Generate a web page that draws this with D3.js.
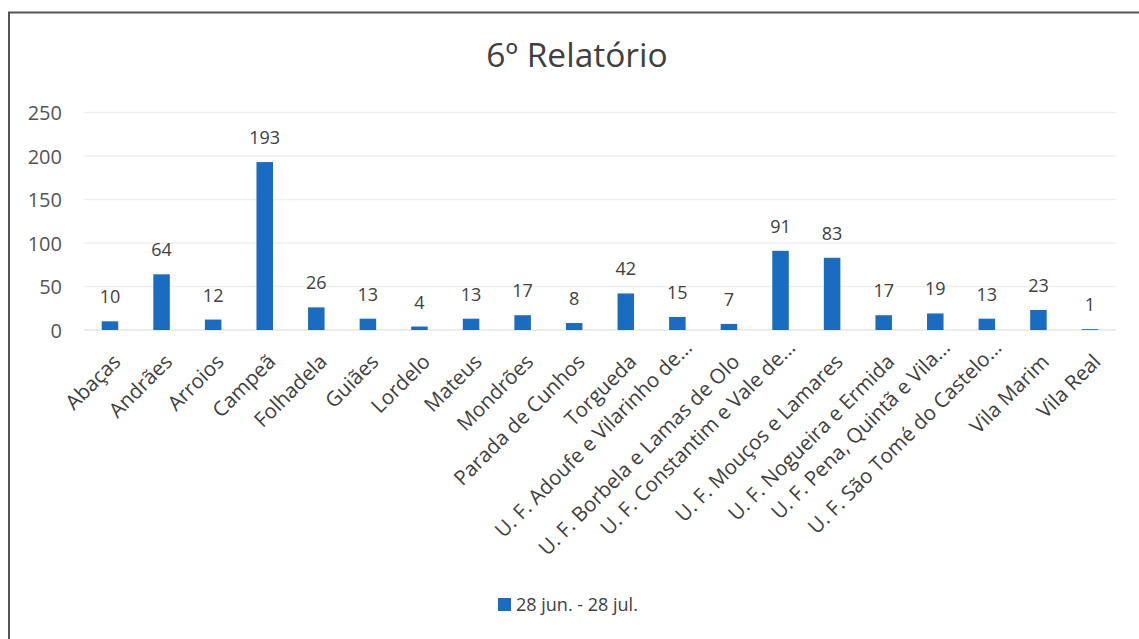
<!DOCTYPE html>
<html><head><meta charset="utf-8">
<script src="https://cdn.jsdelivr.net/npm/d3@7"></script>
<style>body{margin:0;background:#fff;} svg{display:block;}</style>
</head><body>
<svg id="c" width="1139" height="639"></svg>
<script>
const categories = ["Abaças","Andrães","Arroios","Campeã","Folhadela","Guiães","Lordelo","Mateus","Mondrões","Parada de Cunhos","Torgueda","U. F. Adoufe e Vilarinho de...","U. F. Borbela e Lamas de Olo","U. F. Constantim e Vale de...","U. F. Mouços e Lamares","U. F. Nogueira e Ermida","U. F. Pena, Quintã e Vila...","U. F. São Tomé do Castelo...","Vila Marim","Vila Real"];
const values = [10,64,12,193,26,13,4,13,17,8,42,15,7,91,83,17,19,13,23,1];
const yTicks = [0,50,100,150,200,250];
const seriesName = "28 jun. - 28 jul.";
const title = "6º Relatório";

const font = "'Open Sans', sans-serif";
const svg = d3.select("#c");
const barColor = "#1a6cc0";

// frame
svg.append("path").attr("d","M9,639 L9,12.5 L1139,12.5").attr("fill","none").attr("stroke","#555").attr("stroke-width",2);

const x = d3.scaleBand().domain(categories).range([84.2,1115.8]).paddingInner(0.68).paddingOuter(0.34);
const y = d3.scaleLinear().domain([0,250]).range([330,112.5]);

// gridlines
svg.append("g").selectAll("line").data(yTicks.slice(1)).join("line")
  .attr("x1",84).attr("x2",1116).attr("y1",d=>y(d)).attr("y2",d=>y(d))
  .attr("stroke","#efefef").attr("stroke-width",1.5);
svg.append("line").attr("x1",84).attr("x2",1116).attr("y1",y(0)).attr("y2",y(0)).attr("stroke","#e6e6e6").attr("stroke-width",1.5);

// y axis
const yAxis = d3.axisLeft(y).tickValues(yTicks).tickSize(0).tickPadding(0);
const gy = svg.append("g").attr("transform","translate(62,0)").call(yAxis);
gy.select(".domain").remove();
gy.selectAll("text").attr("font-family",font).attr("font-size",20).attr("fill","#555").attr("dy","0.36em");

// bars
svg.append("g").selectAll("rect").data(values).join("rect")
  .attr("x",(d,i)=>x(categories[i])).attr("width",x.bandwidth())
  .attr("y",d=>y(d)).attr("height",d=>y(0)-y(d)).attr("fill",barColor);

// data labels
svg.append("g").selectAll("text").data(values).join("text")
  .attr("x",(d,i)=>x(categories[i])+x.bandwidth()/2).attr("y",d=>y(d)-18)
  .attr("text-anchor","middle").attr("font-family",font).attr("font-size",18).attr("fill","#404040")
  .text(d=>d);

// x axis labels
const xAxis = d3.axisBottom(x).tickSize(0).tickPadding(0);
const gx = svg.append("g").call(xAxis);
gx.select(".domain").remove();
const trunc = d => d.endsWith("...");
gx.selectAll(".tick").attr("transform",d=>{
  const cx = x(d)+x.bandwidth()/2;
  return trunc(d) ? `translate(${cx+16},349)` : `translate(${cx+12},363)`;
});
gx.selectAll("text").attr("font-family",font).attr("font-size",20.5).attr("fill","#404040")
  .attr("text-anchor","end").attr("x",0).attr("y",0).attr("dy",0).attr("transform","rotate(-45)");

// title
svg.append("text").attr("x",577).attr("y",67).attr("text-anchor","middle")
  .attr("font-family",font).attr("font-size",33.5).attr("fill","#404040").text(title);

// legend
svg.append("rect").attr("x",498).attr("y",598).attr("width",13).attr("height",13).attr("fill",barColor);
svg.append("text").attr("x",516).attr("y",611).attr("font-family",font).attr("font-size",18).attr("fill","#404040").text(seriesName);
</script>
</body></html>
